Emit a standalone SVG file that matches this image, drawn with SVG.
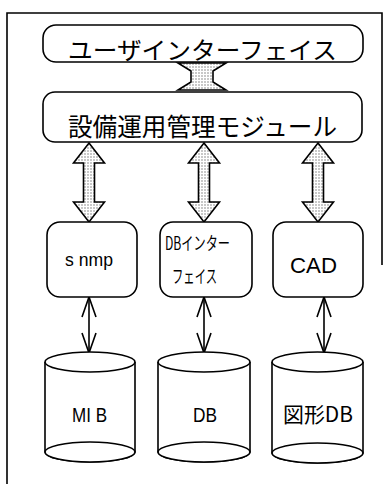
<svg xmlns="http://www.w3.org/2000/svg" width="390" height="484" viewBox="0 0 390 484">
<defs>
<pattern id="dots" width="3" height="3" patternUnits="userSpaceOnUse">
<rect width="3" height="3" fill="#ffffff"/>
<circle cx="1" cy="1" r="0.7" fill="#666"/>
</pattern>
<style>
.box{fill:#fff;stroke:#000;stroke-width:1.6}
.big{fill:url(#dots);stroke:#000;stroke-width:1.6;stroke-linejoin:miter}
.thin{fill:none;stroke:#000;stroke-width:1.6}
.t{font-family:"Noto Sans CJK JP","Liberation Sans",sans-serif;fill:#000}
.l{font-family:"Liberation Sans","Noto Sans CJK JP",sans-serif;fill:#000}
</style>
</defs>
<rect width="390" height="484" fill="#fff"/>
<g id="frame">
<path d="M7,484 L7,13 L382,13 L382,265" fill="none" stroke="#000" stroke-width="1.6"/>
</g>
<g id="connectors">
<path class="big" d="M178,63 L226,63 L213,71 L213,82 L226,90 L178,90 L191,82 L191,71 Z"/>
<path class="big" d="M89,143 L104.5,163 L94.5,163 L94.5,202 L104.5,202 L89,222 L73.5,202 L83.5,202 L83.5,163 L73.5,163 Z"/>
<path class="big" d="M204,143 L219.5,163 L209.5,163 L209.5,202 L219.5,202 L204,222 L188.5,202 L198.5,202 L198.5,163 L188.5,163 Z"/>
<path class="big" d="M318,143 L333.5,163 L323.5,163 L323.5,202 L333.5,202 L318,222 L302.5,202 L312.5,202 L312.5,163 L302.5,163 Z"/>
<g class="thin">
<line x1="89" y1="297" x2="89" y2="353"/>
<polyline points="82,317 89,297 96,317"/>
<polyline points="82,333 89,353 96,333"/>
<line x1="204" y1="297" x2="204" y2="353"/>
<polyline points="197,317 204,297 211,317"/>
<polyline points="197,333 204,353 211,333"/>
<line x1="324" y1="297" x2="324" y2="353"/>
<polyline points="317,317 324,297 331,317"/>
<polyline points="317,333 324,353 331,333"/>
</g>
</g>
<g id="ui">
<rect class="box" x="43" y="25" width="320" height="37" rx="13"/>
<text class="t" x="68" y="59" font-size="24" textLength="269" lengthAdjust="spacingAndGlyphs">ユーザインターフェイス</text>
</g>
<g id="module">
<rect class="box" x="43" y="92" width="319" height="50" rx="12"/>
<text class="t" x="68" y="136" font-size="25" textLength="269" lengthAdjust="spacingAndGlyphs">設備運用管理モジュール</text>
</g>
<g id="snmp">
<rect class="box" x="47" y="222" width="90" height="75" rx="13"/>
<text class="l" x="65" y="266" font-size="18" textLength="48" lengthAdjust="spacingAndGlyphs">s nmp</text>
</g>
<g id="dbif">
<rect class="box" x="160" y="222" width="92" height="75" rx="13"/>
<text class="t" x="165" y="250" font-size="18" textLength="65" lengthAdjust="spacingAndGlyphs">DBインター</text>
<text class="t" x="172" y="283" font-size="18" textLength="45" lengthAdjust="spacingAndGlyphs">フェイス</text>
</g>
<g id="cad">
<rect class="box" x="273" y="222" width="90" height="75" rx="13"/>
<text class="l" x="290" y="273" font-size="22" textLength="47" lengthAdjust="spacingAndGlyphs">CAD</text>
</g>
<g id="mib">
<path class="box" d="M45,362 L45,452 A45,10 0 0 0 135,452 L135,362"/>
<ellipse class="box" cx="90" cy="362" rx="45" ry="10"/>
<ellipse class="box" cx="90" cy="452" rx="45" ry="10"/>
<text class="l" x="72" y="422" font-size="21" textLength="35" lengthAdjust="spacingAndGlyphs">MI B</text>
</g>
<g id="db">
<path class="box" d="M158,362 L158,452 A46,10 0 0 0 250,452 L250,362"/>
<ellipse class="box" cx="204" cy="362" rx="46" ry="10"/>
<ellipse class="box" cx="204" cy="452" rx="46" ry="10"/>
<text class="l" x="193" y="422" font-size="21" textLength="24" lengthAdjust="spacingAndGlyphs">DB</text>
</g>
<g id="zukeidb">
<path class="box" d="M272,362 L272,453 A45.5,10 0 0 0 363,453 L363,362"/>
<ellipse class="box" cx="317.5" cy="362" rx="45.5" ry="10"/>
<ellipse class="box" cx="317.5" cy="453" rx="45.5" ry="10"/>
<text class="t" x="283" y="422" font-size="21" textLength="70" lengthAdjust="spacingAndGlyphs">図形DB</text>
</g>
</svg>
